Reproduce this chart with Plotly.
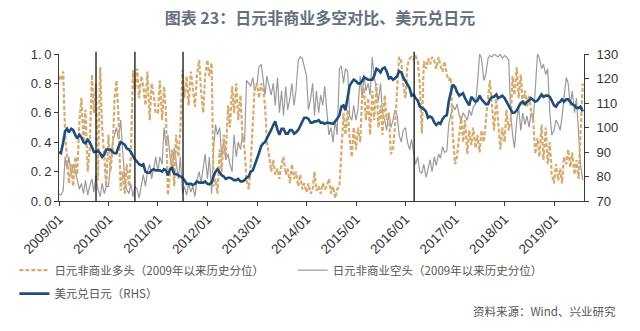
import pandas as pd
import plotly.graph_objects as go

# ---------------- data (semi-monthly readings, 2009/01 - 2019/08) ----------------
long_pct = (
    # 2009
    [0.85, 0.82, 0.88, 0.45, 0.30, 0.12, 0.25, 0.10, 0.30, 0.18, 0.55, 0.70,
     0.40, 0.62, 0.20, 0.35, 0.86, 0.60, 0.80, 0.14, 0.91, 0.50, 0.30, 0.10]
    # 2010
    + [0.45, 0.20, 0.35, 0.70, 0.82, 0.60, 0.07, 0.20, 0.05, 0.25, 0.10, 0.30,
       0.89, 0.75, 0.90, 0.70, 0.85, 0.78, 0.65, 0.88, 0.55, 0.80, 0.72, 0.60]
    # 2011
    + [0.60, 0.82, 0.55, 0.78, 0.60, 0.04, 0.20, 0.35, 0.10, 0.45, 0.30, 0.48,
       0.89, 0.70, 0.85, 0.65, 0.88, 0.75, 0.64, 0.85, 0.96, 0.75, 0.60, 0.85]
    # 2012
    + [0.96, 0.85, 0.94, 0.10, 0.15, 0.05, 0.35, 0.20, 0.45, 0.30, 0.65, 0.50,
       0.78, 0.60, 0.80, 0.55, 0.72, 0.45, 0.35, 0.15, 0.08, 0.25, 0.55, 0.78]
    # 2013
    + [0.80, 0.70, 0.80, 0.75, 0.65, 0.40, 0.30, 0.20, 0.28, 0.18, 0.22, 0.15,
       0.25, 0.30, 0.18, 0.22, 0.12, 0.25, 0.15, 0.20, 0.10, 0.18, 0.08, 0.12]
    # 2014
    + [0.06, 0.12, 0.05, 0.08, 0.20, 0.07, 0.10, 0.05, 0.12, 0.08, 0.10, 0.15,
       0.05, 0.10, 0.02, 0.08, 0.10, 0.38, 0.60, 0.45, 0.62, 0.42, 0.30, 0.50]
    # 2015
    + [0.35, 0.50, 0.40, 0.70, 0.77, 0.55, 0.70, 0.45, 0.75, 0.55, 0.80, 0.50,
       0.65, 0.45, 0.72, 0.55, 0.60, 0.32, 0.35, 0.50, 0.75, 0.98, 0.95, 0.80]
    # 2016
    + [0.70, 0.92, 0.97, 0.98, 0.96, 0.99, 0.95, 0.80, 0.46, 0.95, 0.90, 0.97,
       0.93, 0.98, 0.95, 0.90, 0.98, 0.92, 0.88, 0.95, 0.86, 0.82, 0.84, 0.45]
    # 2017
    + [0.25, 0.30, 0.45, 0.58, 0.40, 0.55, 0.32, 0.48, 0.38, 0.50, 0.36, 0.45,
       0.33, 0.48, 0.40, 0.55, 0.70, 0.82, 0.62, 0.48, 0.70, 0.55, 0.35, 0.50]
    # 2018
    + [0.40, 0.62, 0.48, 0.55, 0.85, 0.72, 0.91, 0.70, 0.86, 0.65, 0.75, 0.64,
       0.72, 0.62, 0.55, 0.32, 0.43, 0.30, 0.52, 0.28, 0.50, 0.25, 0.40, 0.18]
    # 2019
    + [0.12, 0.25, 0.14, 0.22, 0.12, 0.30, 0.25, 0.35, 0.23, 0.33, 0.18, 0.28,
       0.15, 0.45, 0.80]
)

short_pct = (
    # 2009
    [0.05, 0.04, 0.07, 0.30, 0.22, 0.30, 0.18, 0.25, 0.20, 0.15, 0.08, 0.12,
     0.05, 0.14, 0.04, 0.10, 0.15, 0.06, 0.18, 0.08, 0.03, 0.12, 0.05, 0.10]
    # 2010
    + [0.10, 0.25, 0.40, 0.45, 0.50, 0.42, 0.55, 0.35, 0.15, 0.08, 0.05, 0.12,
       0.03, 0.10, 0.08, 0.02, 0.12, 0.18, 0.10, 0.20, 0.25, 0.15, 0.22, 0.30]
    # 2011
    + [0.20, 0.30, 0.25, 0.50, 0.38, 0.45, 0.30, 0.20, 0.36, 0.25, 0.15, 0.30,
       0.05, 0.10, 0.04, 0.12, 0.06, 0.10, 0.03, 0.14, 0.20, 0.12, 0.25, 0.32]
    # 2012
    + [0.15, 0.30, 0.05, 0.35, 0.52, 0.45, 0.50, 0.30, 0.40, 0.28, 0.32, 0.25,
       0.20, 0.45, 0.30, 0.40, 0.35, 0.45, 0.40, 0.82, 0.80, 0.78, 0.84, 0.75]
    # 2013
    + [0.80, 0.91, 0.93, 0.80, 0.72, 0.85, 0.78, 0.72, 0.80, 0.65, 0.84, 0.60,
       0.75, 0.58, 0.78, 0.62, 0.70, 0.80, 0.65, 0.75, 0.96, 0.98, 0.97, 0.92]
    # 2014
    + [0.85, 0.62, 0.70, 0.80, 0.58, 0.75, 0.60, 0.72, 0.65, 0.78, 0.60, 0.45,
       0.50, 0.40, 0.55, 0.45, 0.90, 0.92, 0.80, 0.90, 0.88, 0.58, 0.55, 0.65]
    # 2015
    + [0.55, 0.62, 0.85, 0.70, 0.86, 0.75, 0.80, 0.72, 0.98, 0.85, 0.75, 0.68,
       0.80, 0.60, 0.55, 0.48, 0.60, 0.50, 0.55, 0.62, 0.58, 0.45, 0.40, 0.48]
    # 2016
    + [0.50, 0.40, 0.35, 0.42, 0.33, 0.25, 0.30, 0.20, 0.19, 0.25, 0.16, 0.22,
       0.28, 0.20, 0.30, 0.24, 0.32, 0.29, 0.37, 0.33, 0.34, 0.52, 0.60, 0.65]
    # 2017
    + [0.62, 0.66, 0.58, 0.55, 0.60, 0.58, 0.55, 0.62, 0.58, 0.64, 0.66, 0.80,
       1.00, 0.97, 0.82, 0.86, 0.97, 0.99, 0.98, 1.00, 0.99, 0.98, 1.00, 0.97]
    # 2018
    + [0.99, 0.98, 0.96, 0.60, 0.45, 0.36, 0.55, 0.64, 0.48, 0.60, 0.52, 0.58,
       0.50, 0.60, 0.55, 0.78, 1.00, 0.97, 0.90, 0.93, 0.86, 0.90, 0.60, 0.45]
    # 2019
    + [0.48, 0.55, 0.52, 0.48, 0.57, 0.70, 0.84, 0.80, 0.65, 0.75, 0.60, 0.70,
       0.41, 0.25, 0.14]
)

usdjpy = (
    # 2009
    [90, 89.5, 94, 98.5, 99.5, 98, 99.5, 99, 97, 95.5, 97, 96,
     94, 93.5, 95, 94, 92, 90, 90, 90.5, 89.5, 88, 89, 91]
    # 2010
    + [91, 91, 90, 89.5, 89.5, 92, 94, 93.5, 93, 91.5, 91, 90,
       88, 87, 86, 85, 84.5, 85, 82, 81.5, 81.5, 82.5, 83, 82.5]
    # 2011
    + [82.5, 82.5, 82, 83, 82.5, 80.5, 83, 83.5, 81, 81, 80.5, 80,
       79.5, 78.5, 77, 77, 77, 76.5, 77, 78, 77.5, 77.5, 77.5, 78]
    # 2012
    + [77, 76.8, 77.5, 80, 82, 83, 81.5, 80.5, 80, 79, 79.5, 79.5,
       79, 78.5, 78.5, 79, 78, 78, 78.5, 79.5, 80, 82, 82.5, 84.5]
    # 2013
    + [87, 89.5, 92.5, 93.5, 94, 95.5, 97, 99, 101, 102.5, 99, 97,
       99.5, 99.5, 97.5, 97.5, 99, 99, 97.5, 98, 99, 100.5, 102.5, 104]
    # 2014
    + [104, 103.5, 102, 102, 102.5, 102.5, 103, 102, 102, 101.5, 102, 101.8,
       101.5, 101.5, 102.5, 103.5, 105, 108.5, 109, 107, 113.5, 117, 118.5, 119.5]
    # 2015
    + [119, 118, 118, 119, 120.5, 120, 119.5, 119.5, 119.5, 121, 124, 123.5,
       122.5, 124, 124.5, 123, 120, 120.5, 119.5, 120, 121, 123, 122.5, 120.5]
    # 2016
    + [119, 118, 116, 113, 113.5, 112, 111, 108.5, 108, 107.5, 106.5, 104,
       104.5, 104, 102, 101, 102, 101.5, 103.5, 104.5, 105, 110.5, 114.5, 117.5]
    # 2017
    + [116.5, 114.5, 113, 113.5, 114, 112, 110.5, 109, 112.5, 111.5, 110.5, 111,
       113, 111.5, 110.5, 109.5, 109.5, 111.5, 112.5, 112.5, 113.5, 112, 112.5, 113]
    # 2018
    + [112, 110.5, 109, 107, 106, 106, 107, 108.5, 110, 110.5, 109.5, 110.5,
       111, 112, 111, 110.5, 111, 112, 113.5, 112.5, 113, 113, 112.5, 111]
    # 2019
    + [109, 108.5, 110, 110.5, 111.5, 110.5, 111.5, 111.5, 110.5, 109.5, 109, 108,
       108, 108.5, 106.5]
)

dates = pd.date_range("2009-01-01", periods=len(usdjpy), freq="SMS")

tick_labels = ["2009/01", "2010/01", "2011/01", "2012/01", "2013/01", "2014/01",
               "2015/01", "2016/01", "2017/01", "2018/01", "2019/01"]
tick_dates = [lab.replace("/", "-") + "-01" for lab in tick_labels]

left_ticks = [0.0, 0.2, 0.4, 0.6, 0.8, 1.0]
left_labels = ["0.\u20090", "0.\u20092", "0.\u20094", "0.\u20096", "0.\u20098", "1.\u20090"]

marker_dates = ["2009-10-01", "2010-07-15", "2011-07-05", "2016-03-05"]

name_long = "日元非商业多头（2009年以来历史分位）"
name_short = "日元非商业空头（2009年以来历史分位）"
name_fx = "美元兑日元（RHS）"

# ---------------- styles ----------------
TAN = "#d5ab6f"
GRAY = "#9b9b9b"
NAVY = "#1f4d7a"
AXIS = "#3a3a3a"
CJK = "Noto Sans CJK SC"
LAT = "Liberation Sans"

fig = go.Figure()
fig.add_trace(go.Scatter(x=dates, y=short_pct, mode="lines", name=name_short,
                         line=dict(color=GRAY, width=1.2), legend="legend2"))
fig.add_trace(go.Scatter(x=dates, y=long_pct, mode="lines", name=name_long,
                         line=dict(color=TAN, width=2.2, dash="4px,2px"), legend="legend"))
fig.add_trace(go.Scatter(x=dates, y=usdjpy, mode="lines", name=name_fx, yaxis="y2",
                         line=dict(color=NAVY, width=2.6), legend="legend3"))

shapes = [dict(type="line", xref="x", yref="paper", x0=d, x1=d, y0=0, y1=1.015,
               line=dict(color="#222222", width=1.4), layer="above")
          for d in marker_dates]

legend_font = dict(family=CJK, size=11.5, color="#555555")
common_legend = dict(orientation="h", xanchor="left", yanchor="middle",
                     font=legend_font, bgcolor="rgba(0,0,0,0)", borderwidth=0)

fig.update_layout(
    width=640, height=331,
    margin=dict(l=59, r=56, t=54, b=130),
    paper_bgcolor="white", plot_bgcolor="white",
    showlegend=True,
    title=dict(text="图表 23：日元非商业多空对比、美元兑日元",
               x=0.5, xanchor="center", y=1 - 18 / 331, yanchor="middle",
               font=dict(family=CJK, size=16, color="#66717f", weight="bold")),
    xaxis=dict(type="date", range=["2009-01-01", "2019-08-10"],
               tickvals=tick_dates, ticktext=tick_labels, tickangle=-45,
               ticks="outside", ticklen=4, tickcolor=AXIS,
               showline=True, linecolor=AXIS, linewidth=1, showgrid=False, zeroline=False,
               tickfont=dict(family=LAT, size=13.5, color="#333333")),
    yaxis=dict(range=[0, 1], tickvals=left_ticks, ticktext=left_labels,
               ticks="outside", ticklen=4, tickcolor=AXIS,
               showline=True, linecolor=AXIS, linewidth=1, showgrid=False, zeroline=False,
               tickfont=dict(family=LAT, size=13, color="#333333")),
    yaxis2=dict(range=[70, 130], dtick=10, overlaying="y", side="right",
                ticks="outside", ticklen=4, tickcolor=AXIS, ticklabelstandoff=5,
                showline=True, linecolor=AXIS, linewidth=1, showgrid=False, zeroline=False,
                tickfont=dict(family=LAT, size=13, color="#333333")),
    legend=dict(x=-0.085, y=-0.47, **common_legend),
    legend2=dict(x=0.445, y=-0.47, **common_legend),
    legend3=dict(x=-0.085, y=-0.63, **common_legend),
    shapes=shapes,
    annotations=[dict(text="资料来源：Wind、兴业研究", xref="paper", yref="paper",
                      x=(618 - 59) / 525, y=-(311 - 201) / 147, xanchor="right", yanchor="middle",
                      showarrow=False, font=dict(family=CJK, size=11.5, color="#555555"))],
)

fig.write_html("out.html")
